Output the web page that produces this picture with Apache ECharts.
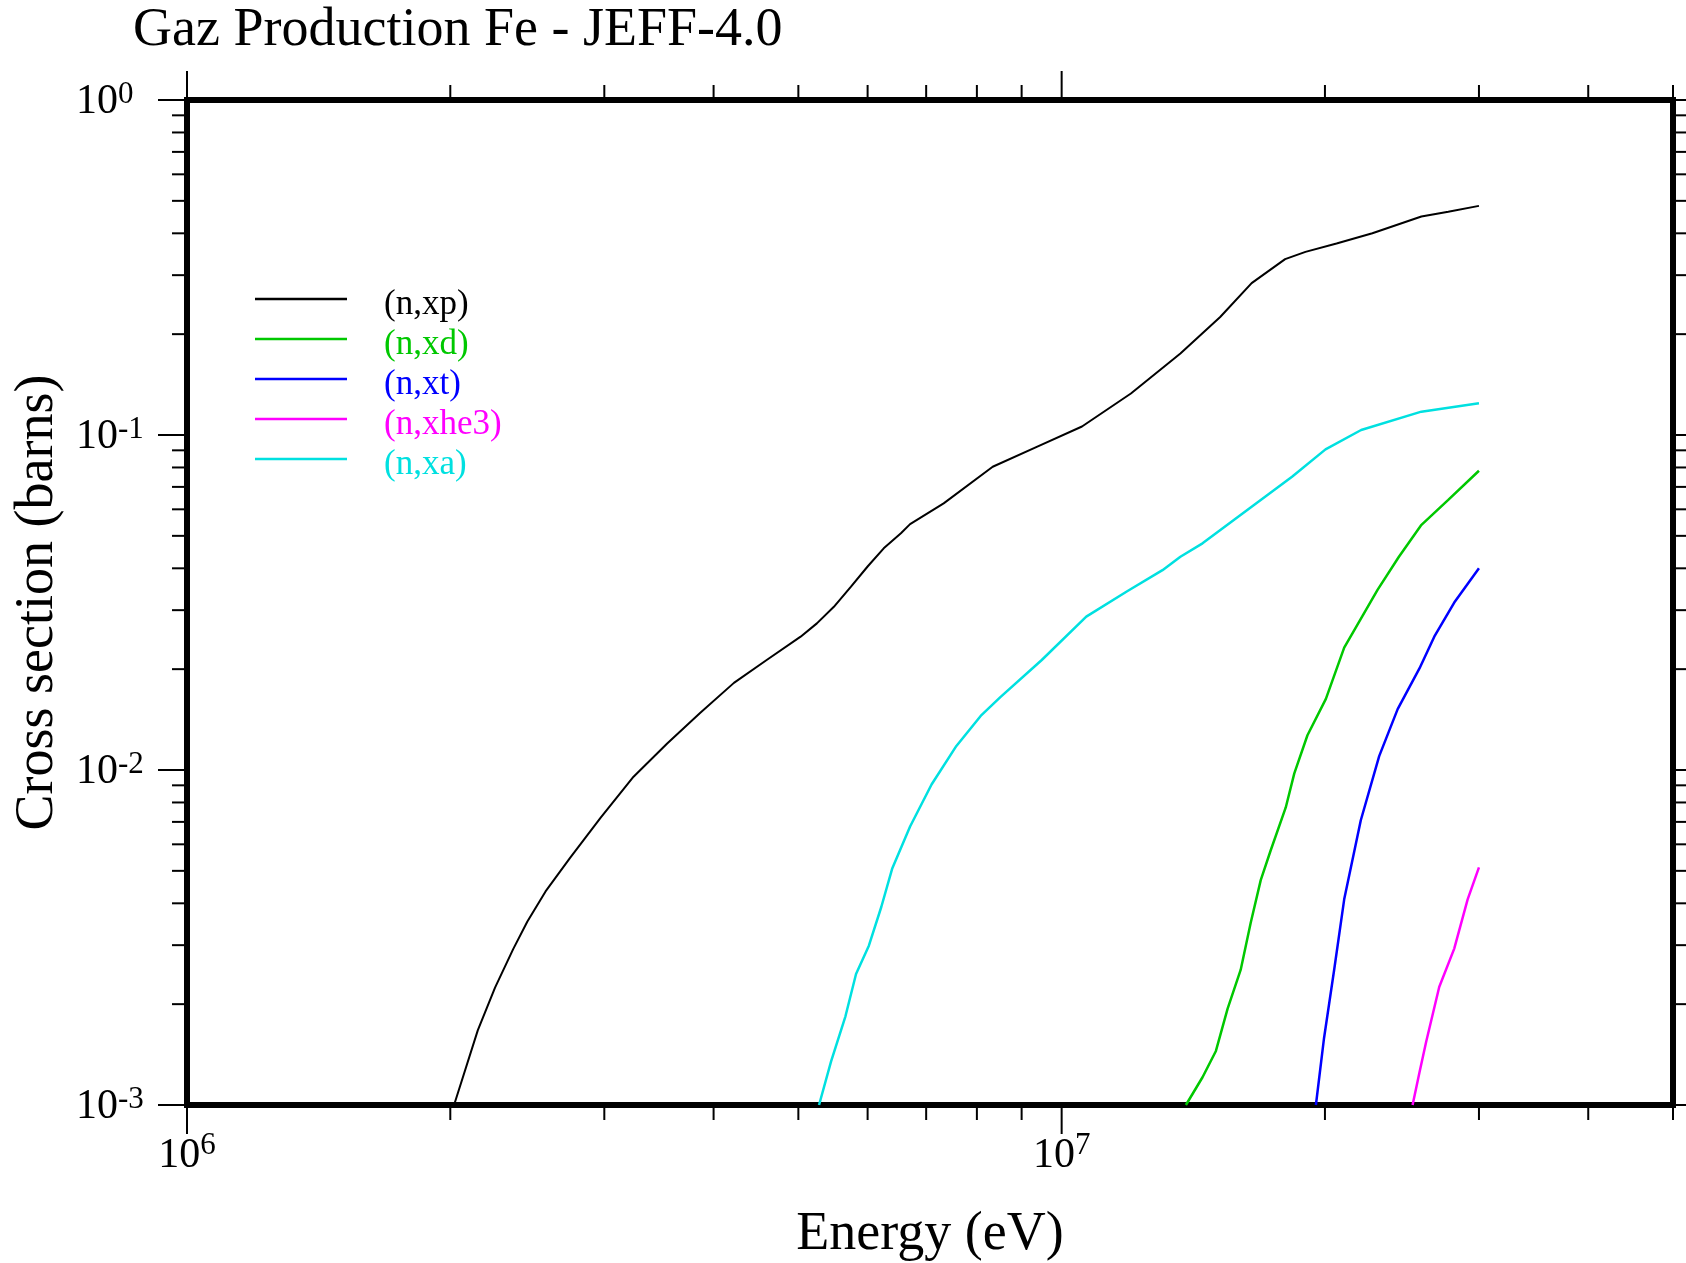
<!DOCTYPE html>
<html>
<head>
<meta charset="utf-8">
<script src="https://cdn.jsdelivr.net/npm/echarts@6/dist/echarts.min.js"></script>
<style>
  html, body { margin: 0; padding: 0; background: #ffffff; }
  #chart { width: 1686px; height: 1263px; }
</style>
</head>
<body>
<div id="chart"></div>
<script>
// Gas production cross sections for Fe (JEFF-4.0), energy in eV, sigma in barns
const xpEnergy = [2.02e6, 2.15e6, 2.25e6, 2.36e6, 2.45e6, 2.57e6, 2.74e6, 2.97e6, 3.24e6, 3.54e6,
                  3.86e6, 4.22e6, 4.6e6, 5.03e6, 5.25e6, 5.49e6, 5.74e6, 6.0e6, 6.26e6, 6.55e6,
                  6.71e6, 7.33e6, 8.34e6, 9.38e6, 1.055e7, 1.2e7, 1.367e7, 1.518e7, 1.649e7, 1.801e7,
                  1.9e7, 2.062e7, 2.266e7, 2.578e7, 2.767e7, 3.0e7];
const xpSigma  = [1.0e-3, 1.67e-3, 2.24e-3, 2.92e-3, 3.53e-3, 4.34e-3, 5.46e-3, 7.2e-3, 9.55e-3, 1.2e-2,
                  1.48e-2, 1.82e-2, 2.13e-2, 2.5e-2, 2.74e-2, 3.07e-2, 3.52e-2, 4.05e-2, 4.59e-2, 5.09e-2,
                  5.42e-2, 6.25e-2, 8.04e-2, 9.23e-2, 0.106, 0.133, 0.175, 0.225, 0.284, 0.335,
                  0.352, 0.373, 0.400, 0.449, 0.464, 0.483];

const xdEnergy = [1.387e7, 1.449e7, 1.501e7, 1.548e7, 1.602e7, 1.645e7, 1.689e7, 1.734e7, 1.804e7,
                  1.845e7, 1.91e7, 2.005e7, 2.104e7, 2.297e7, 2.43e7, 2.575e7, 2.767e7, 3.0e7];
const xdSigma  = [1.0e-3, 1.21e-3, 1.45e-3, 1.94e-3, 2.53e-3, 3.5e-3, 4.69e-3, 5.76e-3, 7.73e-3,
                  9.77e-3, 1.27e-2, 1.63e-2, 2.32e-2, 3.45e-2, 4.33e-2, 5.37e-2, 6.4e-2, 7.82e-2];

const xtEnergy = [1.953e7, 1.995e7, 2.049e7, 2.104e7, 2.198e7, 2.307e7, 2.422e7, 2.565e7, 2.667e7, 2.811e7, 3.0e7];
const xtSigma  = [1.0e-3, 1.58e-3, 2.53e-3, 4.11e-3, 7.08e-3, 1.1e-2, 1.52e-2, 2.01e-2, 2.5e-2, 3.16e-2, 4.0e-2];

const xhe3Energy = [2.519e7, 2.565e7, 2.61e7, 2.702e7, 2.811e7, 2.912e7, 3.0e7];
const xhe3Sigma  = [1.0e-3, 1.25e-3, 1.54e-3, 2.25e-3, 2.93e-3, 4.11e-3, 5.12e-3];

const xaEnergy = [5.28e6, 5.45e6, 5.66e6, 5.82e6, 6.02e6, 6.22e6, 6.4e6, 6.71e6, 7.1e6, 7.58e6,
                  8.08e6, 8.51e6, 9.49e6, 1.067e7, 1.187e7, 1.304e7, 1.367e7, 1.449e7, 1.649e7, 1.834e7,
                  2.003e7, 2.2e7, 2.578e7, 3.0e7];
const xaSigma  = [1.0e-3, 1.35e-3, 1.84e-3, 2.46e-3, 2.99e-3, 3.9e-3, 5.07e-3, 6.78e-3, 9.05e-3, 1.18e-2,
                  1.45e-2, 1.65e-2, 2.13e-2, 2.87e-2, 3.41e-2, 3.95e-2, 4.33e-2, 4.75e-2, 6.11e-2, 7.51e-2,
                  9.06e-2, 0.1035, 0.1174, 0.1243];

const reactionNames  = ['(n,xp)', '(n,xd)', '(n,xt)', '(n,xhe3)', '(n,xa)'];
const reactionColors = ['#000000', '#00c800', '#0000ff', '#ff00ff', '#00e0e0'];

// Axis ranges and tick positions
const X_MIN = 1e6, X_MAX = 5e7;
const Y_MIN = 1e-3, Y_MAX = 1;
const xMajorTicks = [1e6, 1e7];
const xMinorTicks = [2e6, 3e6, 4e6, 5e6, 6e6, 7e6, 8e6, 9e6, 2e7, 3e7, 4e7, 5e7];
const yMajorTicks = [1e-3, 1e-2, 1e-1, 1];
const yMinorTicks = [2e-3, 3e-3, 4e-3, 5e-3, 6e-3, 7e-3, 8e-3, 9e-3,
                     2e-2, 3e-2, 4e-2, 5e-2, 6e-2, 7e-2, 8e-2, 9e-2,
                     2e-1, 3e-1, 4e-1, 5e-1, 6e-1, 7e-1, 8e-1, 9e-1];

const FONT = 'Liberation Serif';

function zip(xs, ys) { return xs.map((x, i) => [x, ys[i]]); }

const curves = [
  zip(xpEnergy, xpSigma),
  zip(xdEnergy, xdSigma),
  zip(xtEnergy, xtSigma),
  zip(xhe3Energy, xhe3Sigma),
  zip(xaEnergy, xaSigma)
];

// "10" with the exponent as a superscript; intermediate extent ticks get no label
function powerLabel(v) {
  const e = Math.log10(v);
  const r = Math.round(e);
  if (Math.abs(e - r) > 1e-6) return '';
  return '{b|10}{s|' + r + '}';
}

function labelRich(topPad, bottomPad) {
  return {
    b: { fontFamily: FONT, fontSize: 42, lineHeight: 42, padding: [topPad, 0, bottomPad, 0], color: '#000' },
    s: { fontFamily: FONT, fontSize: 31, lineHeight: 31, verticalAlign: 'top', color: '#000' }
  };
}

const MAJOR_LEN = 29, MINOR_LEN = 15, TICK_W = 2;

function tickLine(x1, y1, x2, y2) {
  return { type: 'line', shape: { x1, y1, x2, y2 }, style: { stroke: '#000', lineWidth: TICK_W } };
}

// Outward ticks on all four sides of the frame
function renderXTick(params, api) {
  const len = api.value(2) === 1 ? MAJOR_LEN : MINOR_LEN;
  const pb = api.coord([api.value(0), Y_MIN]);
  const pt = api.coord([api.value(0), Y_MAX]);
  return { type: 'group', children: [
    tickLine(pb[0], pb[1], pb[0], pb[1] + len),
    tickLine(pt[0], pt[1], pt[0], pt[1] - len)
  ]};
}

function renderYTick(params, api) {
  const len = api.value(2) === 1 ? MAJOR_LEN : MINOR_LEN;
  const pl = api.coord([X_MIN, api.value(1)]);
  const pr = api.coord([X_MAX, api.value(1)]);
  return { type: 'group', children: [
    tickLine(pl[0], pl[1], pl[0] - len, pl[1]),
    tickLine(pr[0], pr[1], pr[0] + len, pr[1])
  ]};
}

const xTickData = xMajorTicks.map(v => [v, Y_MIN, 1]).concat(xMinorTicks.map(v => [v, Y_MIN, 0]));
const yTickData = yMajorTicks.map(v => [X_MIN, v, 1]).concat(yMinorTicks.map(v => [X_MIN, v, 0]));

const chart = echarts.init(document.getElementById('chart'), null, { renderer: 'canvas' });

const lineSeries = reactionNames.map((name, i) => ({
  name: name,
  type: 'line',
  data: curves[i],
  symbol: 'none',
  showSymbol: false,
  smooth: false,
  clip: true,
  z: 3,
  lineStyle: { color: reactionColors[i], width: i === 0 ? 2 : 2.5 },
  itemStyle: { color: reactionColors[i] }
}));

chart.setOption({
  animation: false,
  backgroundColor: '#ffffff',
  title: {
    text: 'Gaz Production Fe - JEFF-4.0',
    left: 133,
    top: 4,
    padding: 0,
    textStyle: { fontFamily: FONT, fontSize: 54, lineHeight: 54, fontWeight: 'normal', color: '#000' }
  },
  grid: {
    left: 187, right: 13, top: 100, bottom: 158,
    show: true, borderColor: '#000', borderWidth: 6, backgroundColor: 'transparent',
    containLabel: false,
    outerBoundsMode: 'none'
  },
  legend: {
    orient: 'vertical',
    left: 255,
    top: 276,
    icon: 'rect',
    itemWidth: 92,
    itemHeight: 2.5,
    itemGap: -6,
    padding: 0,
    selectedMode: false,
    formatter: '{t|{name}}',
    textStyle: {
      fontFamily: FONT,
      fontSize: 35,
      rich: {
        t: { fontFamily: FONT, fontSize: 35, lineHeight: 29, padding: [11, 0, 0, 32] }
      }
    },
    data: reactionNames.map((n, i) => ({ name: n, textStyle: { color: reactionColors[i] } }))
  },
  xAxis: {
    type: 'log',
    logBase: 10,
    min: X_MIN,
    max: X_MAX,
    name: 'Energy (eV)',
    nameLocation: 'middle',
    nameGap: 103,
    nameTextStyle: { fontFamily: FONT, fontSize: 54, lineHeight: 54, color: '#000' },
    axisLine: { show: false },
    axisTick: { show: false },
    minorTick: { show: false },
    splitLine: { show: false },
    axisLabel: {
      margin: 25,
      formatter: powerLabel,
      rich: labelRich(10, 0)
    }
  },
  yAxis: {
    type: 'log',
    logBase: 10,
    min: Y_MIN,
    max: Y_MAX,
    name: 'Cross section (barns)',
    nameLocation: 'middle',
    nameRotate: 90,
    nameGap: 118,
    nameTextStyle: { fontFamily: FONT, fontSize: 54, lineHeight: 54, color: '#000' },
    axisLine: { show: false },
    axisTick: { show: false },
    minorTick: { show: false },
    splitLine: { show: false },
    axisLabel: {
      align: 'left',
      margin: 111,
      formatter: powerLabel,
      rich: labelRich(14, 10)
    }
  },
  series: lineSeries.concat([
    {
      type: 'custom',
      name: 'xTicks',
      renderItem: renderXTick,
      data: xTickData,
      clip: false,
      silent: true,
      z: 5
    },
    {
      type: 'custom',
      name: 'yTicks',
      renderItem: renderYTick,
      data: yTickData,
      clip: false,
      silent: true,
      z: 5
    }
  ])
});
</script>
</body>
</html>
